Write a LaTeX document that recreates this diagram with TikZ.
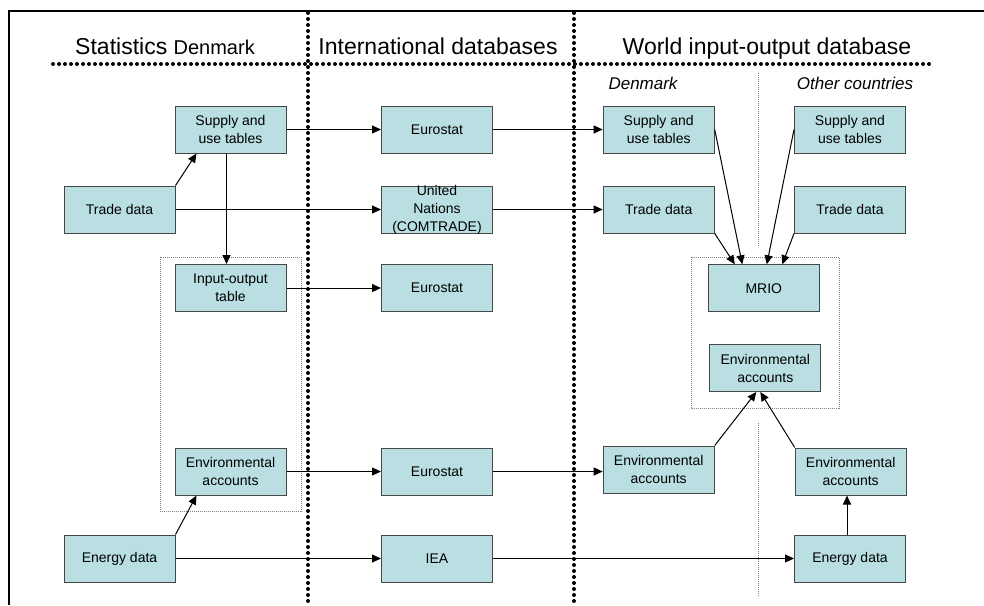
\documentclass[tikz,border=0pt]{standalone}
\usepackage{fontspec}
\setmainfont{Liberation Sans}
\usetikzlibrary{arrows.meta}
\definecolor{boxfill}{RGB}{185,223,226}
\definecolor{boxline}{RGB}{70,70,70}
\begin{document}
\begin{tikzpicture}[x=1pt,y=-1pt,
  box/.style={draw=boxline, fill=boxfill, line width=1pt, minimum width=111pt, minimum height=47pt, inner sep=0pt, align=center, font=\fontsize{14}{18}\selectfont},
  boxtext/.style={align=center, inner sep=0pt, font=\fontsize{14}{18}\selectfont},
  arr/.style={-{Triangle[length=9pt,width=8pt]}, line width=1pt},
  bigdots/.style={line width=4pt, line cap=round, dash pattern=on 0pt off 6pt},
  smalldots/.style={draw=gray, line width=0.6pt, dash pattern=on 1pt off 1pt},
  heading/.style={anchor=base, inner sep=0pt, font=\fontsize{23}{27}\selectfont},
  subheading/.style={anchor=base, inner sep=0pt, font=\fontsize{17}{20}\selectfont\itshape}]
\useasboundingbox (0,0) rectangle (984,605);
\draw[line width=2pt] (8,11) -- (984,11);
\draw[line width=2pt] (9,10) -- (9,605);
\draw[bigdots] (53,64) -- (929,64);
\draw[bigdots] (308,13) -- (308,605);
\draw[bigdots] (574,13) -- (574,605);
\draw[smalldots] (758,73) -- (758,247);
\draw[smalldots] (758,423) -- (758,597);
\draw[smalldots] (160,257) rectangle (301,511);
\draw[smalldots] (691,257) rectangle (839,408);
\node[heading] (hstat) at (165,54) {Statistics {\fontsize{20}{24}\selectfont Denmark}};
\node[heading] (hint) at (438,54) {International databases};
\node[heading] (hwio) at (767,54) {World input-output database};
\node[subheading] (hdk) at (643,89) {Denmark};
\node[subheading] (hoc) at (855,89) {Other countries};
\node[box] (sut1) at (230.5,129.5) {Supply and\\use tables};
\node[box] (trade1) at (119.5,209.5) {Trade data};
\node[box] (io) at (230.5,288) {Input-output\\table};
\node[box] (env1) at (230.5,471.5) {Environmental\\accounts};
\node[box] (energy1) at (119.5,558.5) {Energy data};
\node[box] (euro1) at (437,129.5) {Eurostat};
\node[box] (un) at (437,209.5) {};
\node[boxtext] (untext) at (un) {United\\Nations\\(COMTRADE)};
\node[box] (euro2) at (437,288) {Eurostat};
\node[box] (euro3) at (437,471.5) {Eurostat};
\node[box] (iea) at (437,558.5) {IEA};
\node[box] (sut2) at (658.7,129.5) {Supply and\\use tables};
\node[box] (trade2) at (658.7,209.5) {Trade data};
\node[box] (env2) at (658.7,469.5) {Environmental\\accounts};
\node[box] (sut3) at (850,129.5) {Supply and\\use tables};
\node[box] (trade3) at (850,209.5) {Trade data};
\node[box] (env3) at (850.7,471.5) {Environmental\\accounts};
\node[box] (energy3) at (850,558.5) {Energy data};
\node[box] (mrio) at (763.8,288.3) {MRIO};
\node[box] (env4) at (765.3,368) {Environmental\\accounts};
\draw[arr] (sut1) -- (euro1);
\draw[arr] (euro1) -- (sut2);
\draw[arr] (trade1) -- (un);
\draw[arr] (un) -- (trade2);
\draw[arr] (trade1.north east) -- ([xshift=-34pt]sut1.south);
\draw[arr] ([xshift=-4pt]sut1.south) -- ([xshift=-4pt]io.north);
\draw[arr] (io) -- (euro2);
\draw[arr] (env1) -- (euro3);
\draw[arr] (energy1.north east) -- ([xshift=-34pt]env1.south);
\draw[arr] (energy1) -- (iea);
\draw[arr] (euro3.east) -- (euro3.east -| env2.west);
\draw[arr] (iea) -- (energy3);
\draw[arr] ([xshift=-3pt]energy3.north) -- ([xshift=-3pt]energy3.north |- env3.south);
\draw[arr] (env2.north east) -- ([xshift=-9pt]env4.south);
\draw[arr] (env3.north west) -- ([xshift=-5pt]env4.south);
\draw[arr] (sut2.east) -- ([xshift=-21.5pt]mrio.north);
\draw[arr] (trade2.south east) -- ([xshift=-29pt]mrio.north);
\draw[arr] (sut3.west) -- ([xshift=3pt]mrio.north);
\draw[arr] (trade3.south west) -- ([xshift=18.5pt]mrio.north);
\end{tikzpicture}
\end{document}
